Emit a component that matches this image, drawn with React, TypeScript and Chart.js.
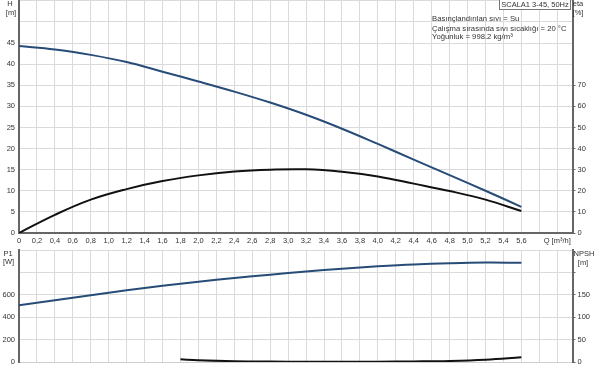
import React, { useEffect, useRef } from 'react';
import { Chart, registerables } from 'chart.js';

Chart.register(...registerables);

// Flow rate Q [m³/h]
const flowQ = [0, 0.4, 0.8, 1.2, 1.6, 2.0, 2.4, 2.8, 3.2, 3.6, 4.0, 4.4, 4.8, 5.2, 5.6];
// Head H [m]
const headH = [44.3, 43.5, 42.2, 40.5, 38.2, 35.9, 33.5, 30.9, 28.0, 24.7, 21.1, 17.4, 13.7, 10.0, 6.2];
// Efficiency eta [%]
const etaPct = [0, 8.6, 15.8, 20.8, 24.6, 27.3, 29.1, 30.0, 30.2, 29.0, 26.8, 23.4, 19.9, 15.8, 10.4];
// Power P1 [W]
const powerP1 = [507, 552, 597, 640, 680, 716, 750, 780, 808, 833, 854, 871, 882, 888, 886];
// NPSH [m]
const npshQ = [1.8, 2.0, 2.4, 2.8, 3.2, 3.6, 4.0, 4.4, 4.8, 5.2, 5.6];
const npshM = [6.0, 4.0, 1.8, 0.9, 0.6, 0.6, 0.8, 1.3, 2.4, 5.2, 10.6];

// Tick values
const xTicks = [0, 0.2, 0.4, 0.6, 0.8, 1.0, 1.2, 1.4, 1.6, 1.8, 2.0, 2.2, 2.4, 2.6, 2.8, 3.0, 3.2, 3.4, 3.6, 3.8, 4.0, 4.2, 4.4, 4.6, 4.8, 5.0, 5.2, 5.4, 5.6, 5.8, 6.0];
const hTicks = [0, 5, 10, 15, 20, 25, 30, 35, 40, 45, 50, 55];
const etaTicks = [0, 10, 20, 30, 40, 50, 60, 70, 80, 90, 100, 110];
const p1Ticks = [0, 200, 400, 600, 800, 1000];
const npshTicks = [0, 50, 100, 150, 200, 250];

const pumpTitle = 'SCALA1 3-45, 50Hz';
const infoLines = [
  'Basınçlandırılan sıvı = Su',
  'Çalışma sırasında sıvı sıcaklığı = 20 °C',
  'Yoğunluk = 998.2 kg/m³',
];

const FONT = '"Liberation Sans", Arial, sans-serif';
const TEXT = '#333';
const GRID = '#dadada';
const AXIS = '#666';
const BLUE = '#284c78';
const BLACK = '#111';

const X_MAX = 6.17;
const LEFT_W = 19;
const RIGHT_W = 27.5;

function fmtX(v: number): string {
  if (Math.abs(v - 6) < 1e-6) return 'Q [m³/h]';
  if (v > 5.7) return '';
  if (v === 0) return '0';
  return v.toFixed(1).replace('.', ',');
}

function setTicks(values: number[]) {
  return (scale: any) => {
    scale.ticks = values.map((v) => ({ value: v }));
  };
}

function fitY(width: number) {
  return (scale: any) => {
    scale.width = width;
    scale.paddingTop = 0;
    scale.paddingBottom = 0;
  };
}

function fitX(height: number) {
  return (scale: any) => {
    scale.height = height;
    scale.paddingLeft = 0;
    scale.paddingRight = 0;
  };
}

function pts(xs: number[], ys: number[]) {
  return xs.map((x, i) => ({ x, y: ys[i] }));
}

export default function App() {
  const topRef = useRef<HTMLCanvasElement>(null);
  const botRef = useRef<HTMLCanvasElement>(null);

  useEffect(() => {
    const tickFont = { family: FONT, size: 7.5 };

    const topText = {
      id: 'topText',
      afterDraw(chart: any) {
        const ctx = chart.ctx;
        ctx.save();
        ctx.fillStyle = TEXT;
        ctx.textBaseline = 'middle';
        ctx.textAlign = 'center';
        ctx.font = `7.5px ${FONT}`;
        ctx.fillText('H', 10, 4);
        ctx.fillText('[m]', 11, 12.5);
        ctx.fillText('eta', 578, 3.5);
        ctx.fillText('[%]', 578, 13);
        // title box
        ctx.fillStyle = '#fff';
        ctx.fillRect(499, 0, 72, 10);
        ctx.strokeStyle = '#777';
        ctx.lineWidth = 1;
        ctx.strokeRect(499.5, -0.5, 71, 10);
        ctx.fillStyle = TEXT;
        ctx.font = `7.5px ${FONT}`;
        ctx.fillText(pumpTitle, 535, 5);
        ctx.textAlign = 'left';
        ctx.font = `7.7px ${FONT}`;
        const ys = [18.5, 28.5, 37];
        infoLines.forEach((t, i) => ctx.fillText(t, 432, ys[i]));
        ctx.restore();
      },
    };

    const botText = {
      id: 'botText',
      afterDraw(chart: any) {
        const ctx = chart.ctx;
        ctx.save();
        ctx.fillStyle = TEXT;
        ctx.textBaseline = 'middle';
        ctx.textAlign = 'center';
        ctx.font = `7.5px ${FONT}`;
        ctx.fillText('P1', 8, 5);
        ctx.fillText('[W]', 8.5, 13);
        ctx.fillText('NPSH', 584, 5);
        ctx.fillText('[m]', 583, 14);
        ctx.restore();
      },
    };

    const xScaleBase = {
      type: 'linear' as const,
      min: 0,
      max: X_MAX,
      afterBuildTicks: setTicks(xTicks),
      grid: { color: GRID, lineWidth: 1, drawTicks: false },
    };

    const line = (data: any[], color: string, axis: string) => ({
      data,
      borderColor: color,
      borderWidth: 2,
      pointRadius: 0,
      tension: 0.4,
      yAxisID: axis,
    });

    const top = new Chart(topRef.current!, {
      type: 'line',
      data: {
        datasets: [
          line(pts(flowQ, headH), BLUE, 'y'),
          line(pts(flowQ, etaPct), BLACK, 'eta'),
        ],
      },
      options: {
        animation: false,
        responsive: false,
        layout: { padding: 0 },
        plugins: { legend: { display: false }, tooltip: { enabled: false } },
        scales: {
          x: {
            ...xScaleBase,
            afterFit: fitX(17),
            border: { color: AXIS, width: 2 },
            ticks: {
              autoSkip: false,
              maxRotation: 0,
              padding: 3,
              color: TEXT,
              font: tickFont,
              callback: (v: any) => fmtX(Number(v)),
            },
          },
          y: {
            type: 'linear',
            position: 'left',
            min: 0,
            max: 55.2,
            afterBuildTicks: setTicks(hTicks),
            afterFit: fitY(LEFT_W),
            grid: { color: GRID, drawTicks: false },
            border: { color: AXIS, width: 2 },
            ticks: {
              padding: 4,
              color: TEXT,
              font: tickFont,
              callback: (v: any) => (Number(v) <= 45 ? String(v) : ''),
            },
          },
          eta: {
            type: 'linear',
            position: 'right',
            min: 0,
            max: 110.4,
            afterBuildTicks: setTicks(etaTicks),
            afterFit: fitY(RIGHT_W),
            grid: {
              drawOnChartArea: false,
              drawTicks: true,
              tickLength: 3,
              tickColor: (c: any) => (c.tick && c.tick.value <= 70 ? AXIS : 'rgba(0,0,0,0)'),
            },
            border: { color: AXIS, width: 2 },
            ticks: {
              padding: 2,
              color: TEXT,
              font: tickFont,
              callback: (v: any) => (Number(v) <= 70 ? String(v) : ''),
            },
          },
        },
      },
      plugins: [topText],
    } as any);

    const bot = new Chart(botRef.current!, {
      type: 'line',
      data: {
        datasets: [
          line(pts(flowQ, powerP1), BLUE, 'y'),
          line(pts(npshQ, npshM), BLACK, 'npsh'),
        ],
      },
      options: {
        animation: false,
        responsive: false,
        layout: { padding: { top: 1, left: 0, right: 0, bottom: 0 } },
        plugins: { legend: { display: false }, tooltip: { enabled: false } },
        scales: {
          x: {
            ...xScaleBase,
            afterFit: fitX(11),
            border: { color: '#cfcfcf', width: 1 },
            ticks: { display: false },
          },
          y: {
            type: 'linear',
            position: 'left',
            min: 0,
            max: 1000,
            afterBuildTicks: setTicks(p1Ticks),
            afterFit: fitY(LEFT_W),
            grid: { color: GRID, drawTicks: false },
            border: { color: AXIS, width: 2 },
            ticks: {
              padding: 4,
              color: TEXT,
              font: tickFont,
              callback: (v: any) => (Number(v) <= 600 ? String(v) : ''),
            },
          },
          npsh: {
            type: 'linear',
            position: 'right',
            min: 0,
            max: 250,
            afterBuildTicks: setTicks(npshTicks),
            afterFit: fitY(RIGHT_W),
            grid: {
              drawOnChartArea: false,
              drawTicks: true,
              tickLength: 3,
              tickColor: (c: any) => (c.tick && c.tick.value <= 200 ? AXIS : 'rgba(0,0,0,0)'),
            },
            border: { color: AXIS, width: 2 },
            ticks: {
              padding: 2,
              color: TEXT,
              font: tickFont,
              callback: (v: any) => (Number(v) <= 150 ? String(v) : ''),
            },
          },
        },
      },
      plugins: [botText],
    } as any);

    return () => {
      top.destroy();
      bot.destroy();
    };
  }, []);

  return (
    <div style={{ position: 'absolute', left: 0, top: 0, width: 600, height: 373, background: '#fff' }}>
      <canvas ref={topRef} width={600} height={250} style={{ position: 'absolute', left: 0, top: 0 }} />
      <canvas ref={botRef} width={600} height={124} style={{ position: 'absolute', left: 0, top: 249 }} />
    </div>
  );
}
